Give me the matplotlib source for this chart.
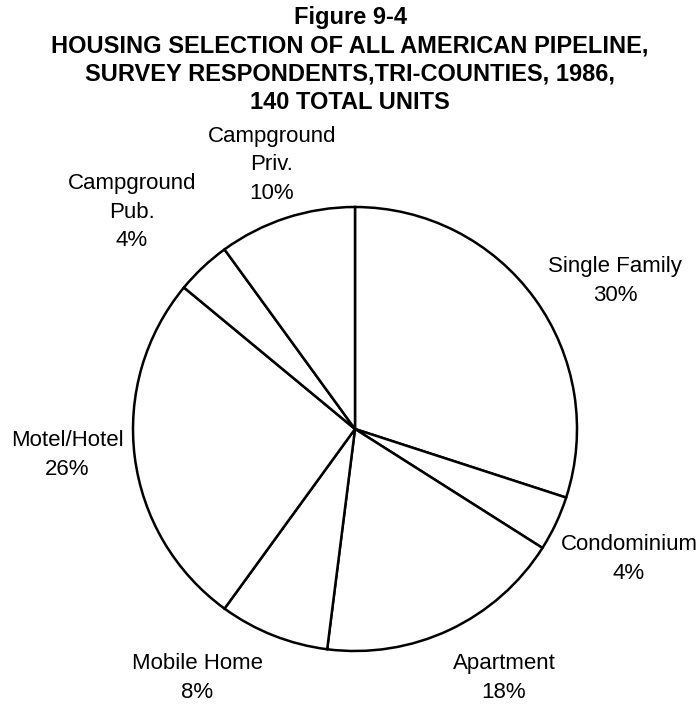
import matplotlib
matplotlib.use('Agg')
import matplotlib.pyplot as plt

plt.rcParams['font.family'] = ['Liberation Sans', 'DejaVu Sans']

# housing types, clockwise from 12 o'clock
categories = ['Single Family', 'Condominium', 'Apartment', 'Mobile Home',
              'Motel/Hotel', 'Campground\nPub.', 'Campground\nPriv.']
percents = [30, 4, 18, 8, 26, 4, 10]

title = ('Figure 9-4\n'
         'HOUSING SELECTION OF ALL AMERICAN PIPELINE,\n'
         'SURVEY RESPONDENTS,TRI-COUNTIES, 1986,\n'
         '140 TOTAL UNITS')

W, H = 700, 706
fig = plt.figure(figsize=(W / 100, H / 100), dpi=100)

# pie centre (355, 429) px, radius 222 px
cx, cy, r = 355, 429, 222
ax = fig.add_axes([(cx - r) / W, (H - cy - r) / H, 2 * r / W, 2 * r / H])
wedges, _ = ax.pie(percents, startangle=90, counterclock=False,
                   colors=['white'] * len(percents),
                   wedgeprops={'edgecolor': 'black', 'linewidth': 1.8})
ax.set_xlim(-1, 1)
ax.set_ylim(-1, 1)
ax.set_aspect('equal')

# label block centres in pixels (from top-left)
label_pos = [(615, 281), (629, 559), (504, 678), (197, 678),
             (67, 455), (132, 212), (272, 165)]
for name, pct, (px, py) in zip(categories, percents, label_pos):
    fig.text(px / W, 1 - py / H, f'{name}\n{pct}%', ha='center', va='center',
             multialignment='center', fontsize=16, linespacing=1.45)

fig.text(0.5, 1 - 60 / H, title, ha='center', va='center', fontsize=17,
         fontweight='bold', linespacing=1.28)

fig.savefig('out.png', dpi=100, facecolor='white')
